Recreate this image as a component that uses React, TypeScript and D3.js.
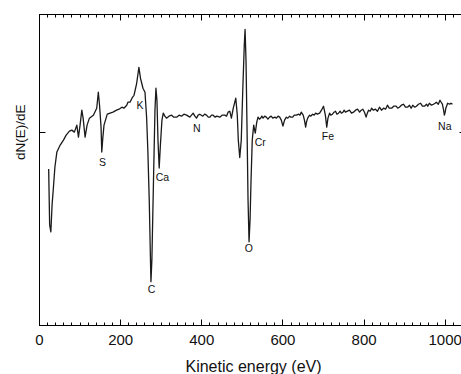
import { useEffect, useRef } from "react";
import * as d3 from "d3";

// Auger spectrum, derivative mode (arbitrary units)
const energy = [
  22.6, 25, 28, 31, 34.4, 38, 42.8, 51, 59, 65.7, 73.8, 79.7, 86, 92, 96, 100, 104.3, 107.5, 112.4, 117.3,
  123, 132.8, 141, 145, 148, 151.7, 153.5, 156, 159, 167, 174, 181, 190, 196, 203, 208, 215, 218, 223, 228,
  233, 239.5, 245, 249, 252, 255, 260, 264, 267, 270.5, 273.5, 274.7, 277, 281, 284.6, 287, 289.5, 292, 295, 298,
  301.8, 305, 309, 313, 319, 325.6, 331, 338, 344, 350, 356, 362.5, 370.6, 378.7, 383, 387, 391, 395, 402.6, 407,
  411.7, 416, 420, 424, 428, 433, 437, 444.4, 450, 456.7, 461, 464.8, 469, 473, 477.6, 483.8, 487.5, 490, 493.6, 497.3,
  501, 504.7, 506.7, 509, 511.6, 514, 516.5, 519, 521.4, 524.4, 528, 531.8, 535.5, 538.6, 542, 545, 548, 551, 555, 559,
  563, 567, 571, 575, 580, 584, 588, 592, 596, 600, 604, 608.5, 612, 616.6, 620, 624, 628, 633, 639, 642,
  645, 650, 653, 656, 658, 661, 665.8, 669, 673, 677, 680.5, 685, 690.4, 695, 700, 704.6, 708, 711, 715, 718,
  722, 726, 729.7, 733, 737, 741, 744, 748, 751, 754, 759, 764, 769, 774, 779, 784, 789, 793, 797, 801,
  805, 808, 811, 815, 818.5, 823, 828, 833, 838, 843, 848, 853, 857.6, 862, 868, 873, 879, 883, 887, 892,
  897, 902, 907, 912, 916, 920, 925, 929, 934, 939, 944, 949, 954, 957, 961, 966, 971, 975, 978, 983,
  987, 990, 993, 996, 998, 1000, 1001.5, 1006, 1011, 1014, 1018,
];

const signal = [
  -37, -93, -100, -73, -55, -35, -20, -13, -8, -3, 1, 2, 0, 7, -5, 7, 22, 14, -5, 7,
  14, 17, 24, 40, 27, 5, -20, -6, 7, 18, 19, 20, 22, 23, 25, 24, 27, 30, 30, 34,
  37, 49, 65, 54, 49, 44, 40, 15, -18, -68, -128, -150, -128, -48, 22, 44, 32, -8, -36, -13,
  12, 19, 16, 14, 16, 17, 15, 15, 17, 16, 18, 17, 15, 19, 16, 14, 17, 18, 16, 18,
  17, 15, 15, 17, 17, 15, 16, 15, 17, 17, 16, 20, 21, 14, 24, 34, 17, -8, -25.5, -8,
  42, 87, 103, 72, 2, -68, -110, -88, -48, -8, 7, -1, 10, 15, 13, 14, 16, 14, 16, 15,
  13, 15, 16, 14, 15, 14, 16, 15, 12, 6, 12, 15, 14, 16, 15, 15, 17, 17, 18, 17,
  20, 17, 12, 5, 10, 14, 17, 16, 18, 17, 19, 18, 19, 22, 26, 17, 5, 14, 19, 17,
  18, 20, 21, 18, 19, 21, 19, 20, 22, 20, 21, 22, 19, 20, 22, 23, 20, 22, 23, 20,
  15, 19, 22, 21, 24, 22, 23, 21, 25, 22, 24, 23, 27, 24, 24, 26, 26, 24, 25, 27,
  28, 25, 25, 27, 24, 27, 25, 26, 28, 29, 26, 26, 28, 26, 29, 27, 28, 29, 30, 28,
  32, 30, 28, 22, 17, 20, 24, 29, 28, 29, 28,
];

const labelNames = ["S", "K", "C", "Ca", "N", "O", "Cr", "Fe", "Na"];
const labelEnergies = [155, 248, 276, 303, 388, 516, 544, 711, 999];
const labelValues = [-30, 27, -158, -45, 4, -117, -10.5, -4.7, 6];

const xTicks = [0, 200, 400, 600, 800, 1000];
const xMinorTicks = d3.range(0, 1051, 20);

// snap to the pixel grid so 1px lines stay sharp
const crisp = (v: number) => Math.round(v - 0.5) + 0.5;

function App() {
  const svgRef = useRef<SVGSVGElement>(null);

  useEffect(() => {
    const left = 39.5, right = 465.5, top = 14.5, bottom = 325.5;

    const svg = d3.select(svgRef.current);
    svg.selectAll("*").remove();

    const x = d3.scaleLinear().domain([0, 1050]).range([left, right]);
    const y = d3.scaleLinear().domain([-194, 118]).range([bottom, top]);

    const font = "'Liberation Sans', Arial, sans-serif";

    // frame
    svg.append("rect")
      .attr("x", left).attr("y", top)
      .attr("width", right - left).attr("height", bottom - top)
      .attr("fill", "none").attr("stroke", "#000").attr("stroke-width", 1);

    // all tick marks in one path, pointing inward
    let d = "";
    xMinorTicks.forEach(v => {
      const len = v % 200 === 0 ? 6 : 3;
      const px = crisp(x(v));
      d += `M${px},${bottom}v${-len}M${px},${top}v${len}`;
    });
    const y0 = crisp(y(0));
    d += `M${left},${y0}h6M${right},${y0}h-6`;
    svg.append("path")
      .attr("d", d)
      .attr("fill", "none")
      .attr("stroke", "#000")
      .attr("stroke-width", 1);

    svg.append("g")
      .selectAll("text")
      .data(xTicks)
      .join("text")
      .attr("x", v => x(v))
      .attr("y", 345)
      .attr("text-anchor", "middle")
      .attr("font-family", font)
      .attr("font-size", 15)
      .attr("fill", "#111")
      .text(v => v);

    svg.append("text")
      .attr("x", 253.5)
      .attr("y", 371.5)
      .attr("text-anchor", "middle")
      .attr("font-family", font)
      .attr("font-size", 16)
      .attr("fill", "#111")
      .text("Kinetic energy (eV)");

    svg.append("text")
      .attr("transform", `translate(24.5,${y(0)}) rotate(-90)`)
      .attr("text-anchor", "middle")
      .attr("font-family", font)
      .attr("font-size", 13.5)
      .attr("fill", "#111")
      .text("dN(E)/dE");

    const points = energy.map((e, i) => [e, signal[i]] as [number, number]);
    const line = d3.line<[number, number]>()
      .x(p => x(p[0]))
      .y(p => y(p[1]));

    svg.append("path")
      .datum(points)
      .attr("fill", "none")
      .attr("stroke", "#1a1a1a")
      .attr("stroke-width", 1.3)
      .attr("stroke-linejoin", "round")
      .attr("d", line);

    svg.append("g")
      .selectAll("text")
      .data(labelNames)
      .join("text")
      .attr("x", (n, i) => x(labelEnergies[i]))
      .attr("y", (n, i) => y(labelValues[i]))
      .attr("dy", "0.35em")
      .attr("text-anchor", "middle")
      .attr("font-family", font)
      .attr("font-size", 10.5)
      .attr("fill", "#111")
      .text(n => n);
  }, []);

  return (
    <svg
      ref={svgRef}
      width={461}
      height={374}
      style={{ position: "absolute", left: 0, top: 0, background: "#fff" }}
    ></svg>
  );
}

export default App;
